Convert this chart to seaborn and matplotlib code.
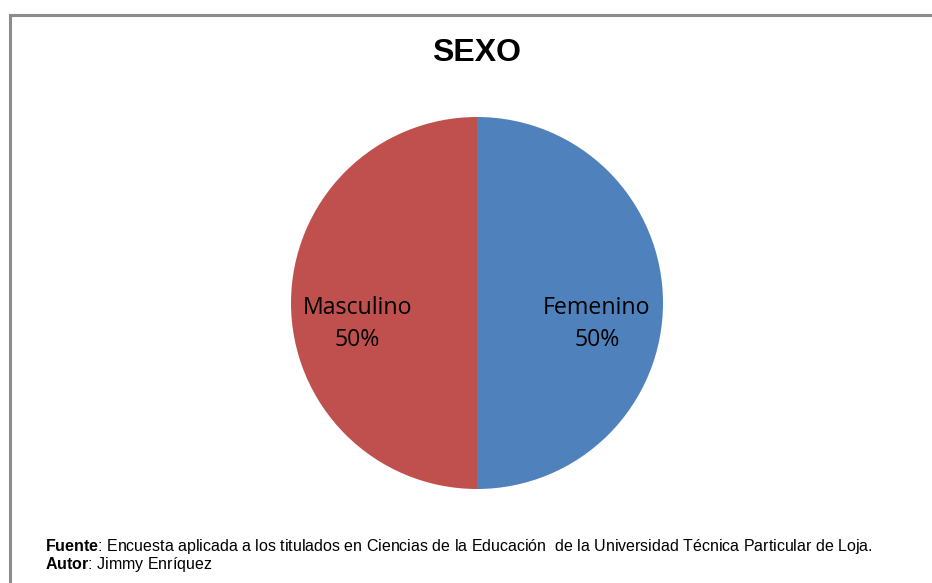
import matplotlib
matplotlib.use("Agg")
import matplotlib.pyplot as plt
import seaborn as sns
import numpy as np
from matplotlib.patches import Rectangle

# data
categorias = ["Femenino", "Masculino"]
porcentajes = [50, 50]
colores = ["#4F81BD", "#C0504D"]

sns.set_theme(style="white")
plt.rcParams['font.family'] = ['Liberation Sans', 'DejaVu Sans']
plt.rcParams['text.color'] = 'black'
plt.rcParams['mathtext.fontset'] = 'custom'
plt.rcParams['mathtext.rm'] = 'Liberation Sans'
plt.rcParams['mathtext.bf'] = 'Liberation Sans:bold'

W, H = 932, 583
fig = plt.figure(figsize=(W / 100, H / 100), dpi=100)

# chart border (only top and left edges fall inside the image)
fig.patches.append(Rectangle((10 / W, -0.1), 1.2, 1 - 15 / H + 0.1,
                             transform=fig.transFigure, fill=False,
                             edgecolor="#8c8c8c", linewidth=2.2))

# pie axes: center (477, 303), radius 186 px
cx, cy, r = 477, 303, 186
ax = fig.add_axes([(cx - r) / W, (H - cy - r) / H, 2 * r / W, 2 * r / H])
wedges, _ = ax.pie(porcentajes, colors=sns.color_palette(colores),
                   startangle=90, counterclock=False, radius=1,
                   wedgeprops=dict(linewidth=0))
ax.set_xlim(-1, 1)
ax.set_ylim(-1, 1)
ax.axis("off")

for w, cat, p in zip(wedges, categorias, porcentajes):
    ang = np.deg2rad((w.theta1 + w.theta2) / 2)
    x, y = 0.645 * np.cos(ang), 0.645 * np.sin(ang) - 0.115
    ax.text(x, y, f"{cat}\n{p}%", ha="center", va="center",
            fontsize=16.7, family=["Open Sans", "DejaVu Sans"],
            color="black", linespacing=1.45)

fig.text(cx / W, 1 - 53 / H, "SEXO", ha="center", va="center",
         fontsize=23, fontweight="bold", color="black")

fig.text(45 / W, 1 - 546 / H,
         r"$\bf{Fuente}$: Encuesta aplicada a los titulados en Ciencias de la Educación  de la Universidad Técnica Particular de Loja.",
         ha="left", va="center", fontsize=11.5, color="black")
fig.text(45 / W, 1 - 565 / H, r"$\bf{Autor}$: Jimmy Enríquez",
         ha="left", va="center", fontsize=11.5, color="black")

fig.savefig("out.png", dpi=100)
